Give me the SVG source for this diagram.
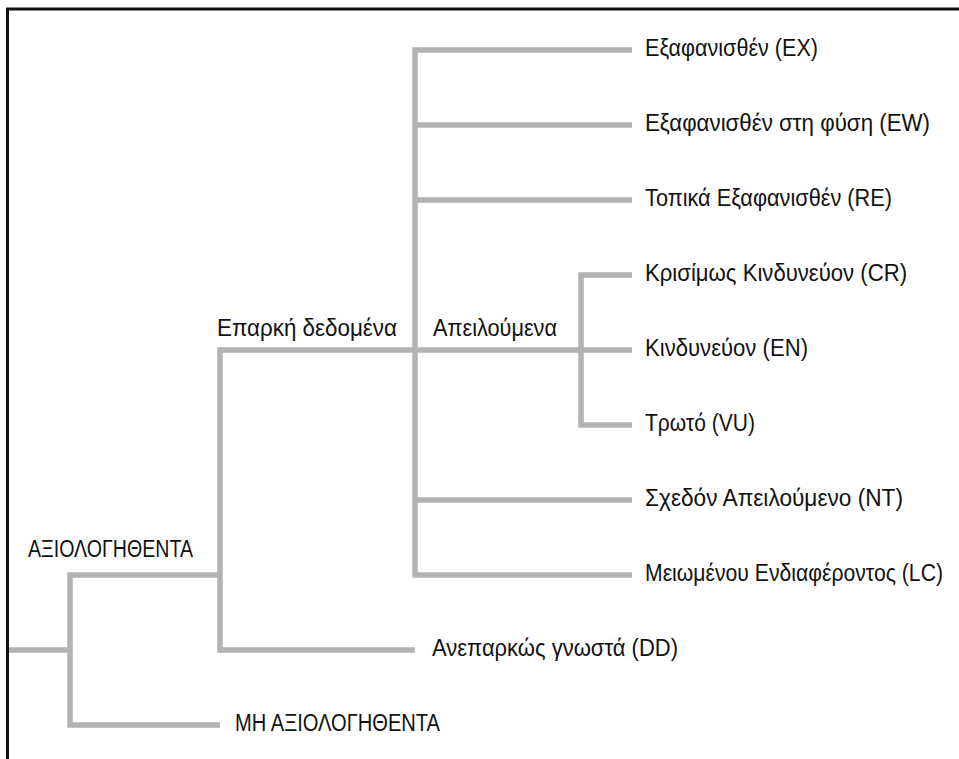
<svg xmlns="http://www.w3.org/2000/svg" width="959" height="759" viewBox="0 0 959 759">
<style>
.ln{fill:none;stroke:#b3b3b3;stroke-width:5.5;stroke-linejoin:miter;stroke-linecap:butt}
.fr{fill:none;stroke:#111;stroke-width:3}
text{font-family:"Liberation Sans",Arial,sans-serif;font-size:23px;fill:#111}
</style>
<rect width="959" height="759" fill="#fff"/>
<path class="fr" d="M7.5,759 V9 H959"/>
<g id="connectors">
<path class="ln" d="M9,650 H70"/>
<path class="ln" d="M220,575 H70 V725 H220"/>
<path class="ln" d="M415,350 H220 V650 H415"/>
<path class="ln" d="M632,50 H415 V575 H632"/>
<path class="ln" d="M415,125 H632"/>
<path class="ln" d="M415,200 H632"/>
<path class="ln" d="M415,500 H632"/>
<path class="ln" d="M415,350 H581"/>
<path class="ln" d="M632,275 H581 V425 H632"/>
<path class="ln" d="M581,350 H632"/>
</g>
<g id="n-assessed"><text x="28" y="557" textLength="165" lengthAdjust="spacingAndGlyphs">ΑΞΙΟΛΟΓΗΘΕΝΤΑ</text></g>
<g id="n-not-assessed"><text x="235" y="731" textLength="205" lengthAdjust="spacingAndGlyphs">ΜΗ ΑΞΙΟΛΟΓΗΘΕΝΤΑ</text></g>
<g id="n-adequate"><text x="217" y="336" textLength="180" lengthAdjust="spacingAndGlyphs">Επαρκή δεδομένα</text></g>
<g id="n-dd"><text x="432" y="656" textLength="246" lengthAdjust="spacingAndGlyphs">Ανεπαρκώς γνωστά (DD)</text></g>
<g id="n-threatened"><text x="433" y="336" textLength="124" lengthAdjust="spacingAndGlyphs">Απειλούμενα</text></g>
<g id="n-ex"><text x="645" y="56" textLength="173" lengthAdjust="spacingAndGlyphs">Εξαφανισθέν (EX)</text></g>
<g id="n-ew"><text x="645" y="131" textLength="285" lengthAdjust="spacingAndGlyphs">Εξαφανισθέν στη φύση (EW)</text></g>
<g id="n-re"><text x="645" y="206" textLength="247" lengthAdjust="spacingAndGlyphs">Τοπικά Εξαφανισθέν (RE)</text></g>
<g id="n-cr"><text x="645" y="281" textLength="262" lengthAdjust="spacingAndGlyphs">Κρισίμως Κινδυνεύον (CR)</text></g>
<g id="n-en"><text x="645" y="356" textLength="163" lengthAdjust="spacingAndGlyphs">Κινδυνεύον (EN)</text></g>
<g id="n-vu"><text x="645" y="431" textLength="110" lengthAdjust="spacingAndGlyphs">Τρωτό (VU)</text></g>
<g id="n-nt"><text x="645" y="506" textLength="258" lengthAdjust="spacingAndGlyphs">Σχεδόν Απειλούμενο (NT)</text></g>
<g id="n-lc"><text x="645" y="581" textLength="298" lengthAdjust="spacingAndGlyphs">Μειωμένου Ενδιαφέροντος (LC)</text></g>
</svg>
